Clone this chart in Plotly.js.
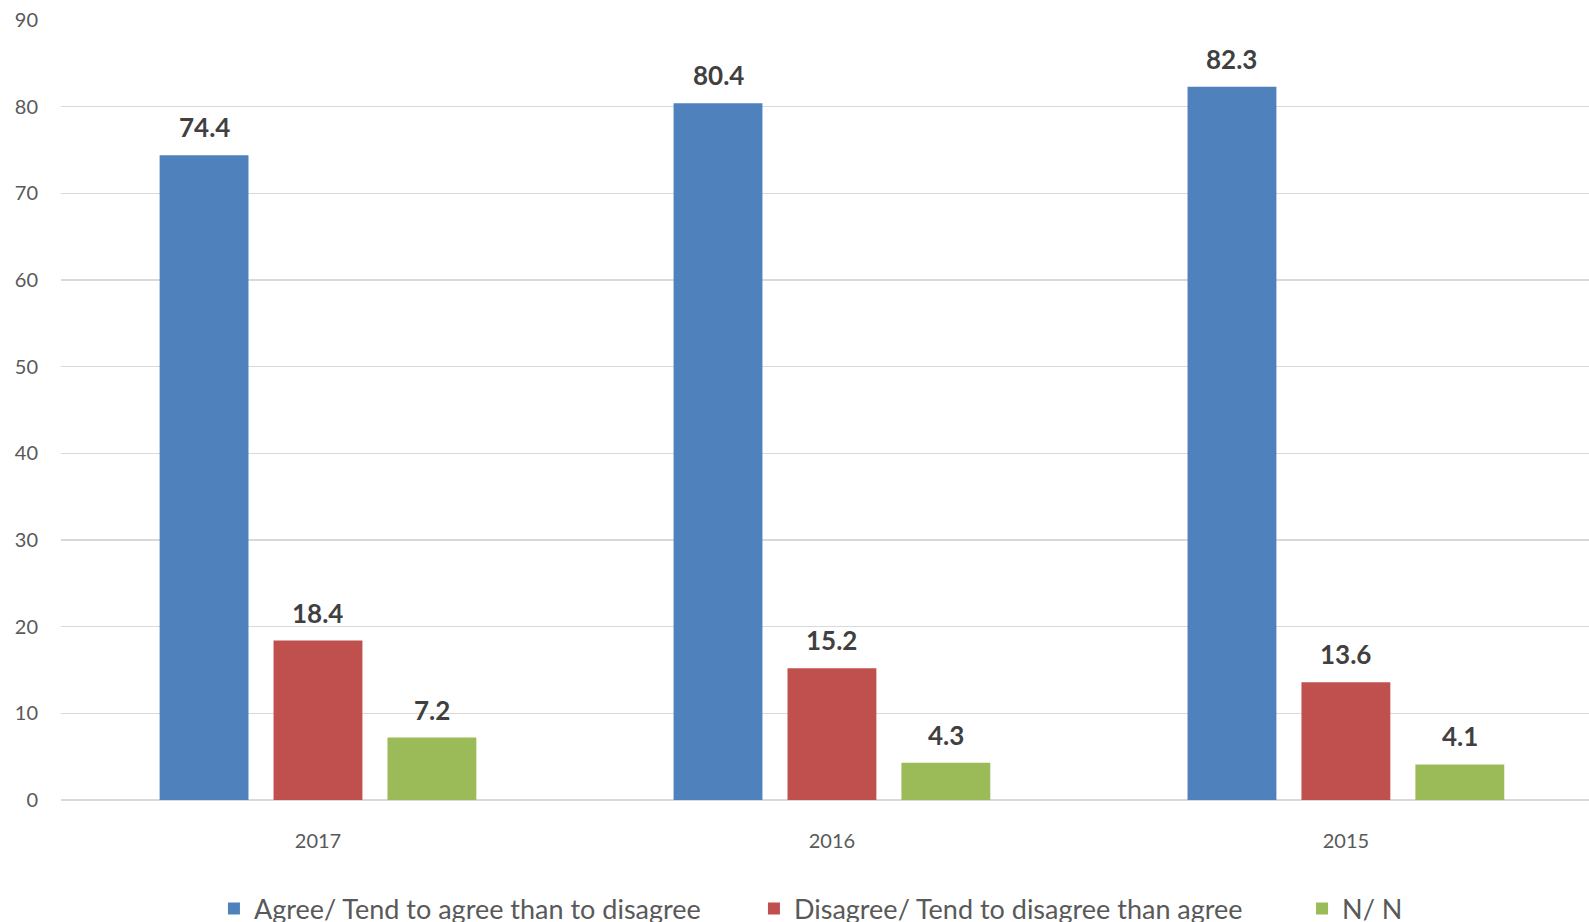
<!DOCTYPE html>
<html>
<head>
<meta charset="utf-8">
<script src="https://cdn.plot.ly/plotly-3.0.1.min.js"></script>
<style>
html,body{margin:0;padding:0;background:#fff;overflow:hidden;width:1589px;height:922px;}
#chart{width:1589px;height:940px;}
</style>
</head>
<body>
<div id="chart"></div>
<script>
const years = ["2017", "2016", "2015"];
const agree = [74.4, 80.4, 82.3];
const disagree = [18.4, 15.2, 13.6];
const nn = [7.2, 4.3, 4.1];
const seriesNames = ["Agree/ Tend to agree than to disagree", "Disagree/ Tend to disagree than agree", "N/ N"];
const seriesColors = ["#4f81bd", "#c0504d", "#9bbb59"];
const yTicks = [0, 10, 20, 30, 40, 50, 60, 70, 80, 90];

const allSeries = [agree, disagree, nn];
const BARGAP = 0.335;
const BARGROUPGAP = 0.22;
const FONT = "Lato, 'Open Sans', sans-serif";
const legendIds = ["legend", "legend2", "legend3"];
const legendX = [0.1001, 0.4535, 0.8122];

const traces = allSeries.map((vals, i) => ({
  type: "bar",
  name: seriesNames[i],
  x: years,
  y: vals,
  legend: legendIds[i],
  marker: {color: seriesColors[i]},
  hoverinfo: "skip"
}));

const annotations = [];
allSeries.forEach((vals, i) => {
  vals.forEach((v, j) => {
    annotations.push({
      xref: "x", yref: "y",
      x: j + (i - 1) * (1 - BARGAP) / 3,
      y: v,
      text: v.toFixed(1),
      showarrow: false,
      yanchor: "bottom",
      yshift: 10,
      font: {family: FONT, size: 26, color: "#404040", weight: "bold"}
    });
  });
});

const layout = {
  width: 1589,
  height: 940,
  margin: {l: 61, r: 0, t: 20, b: 140},
  paper_bgcolor: "#ffffff",
  plot_bgcolor: "#ffffff",
  barmode: "group",
  bargap: BARGAP,
  bargroupgap: BARGROUPGAP,
  showlegend: true,
  xaxis: {
    type: "category",
    range: [-0.5, 2.473],
    showgrid: false,
    showline: false,
    zeroline: false,
    ticks: "",
    ticklabelstandoff: 27,
    tickfont: {family: FONT, size: 20, color: "#595959"},
    fixedrange: true
  },
  yaxis: {
    range: [0, 90],
    tickvals: yTicks,
    ticktext: yTicks.map(String),
    showgrid: true,
    gridcolor: "#d9d9d9",
    gridwidth: 1.5,
    zeroline: true,
    zerolinecolor: "#d9d9d9",
    zerolinewidth: 2,
    showline: false,
    ticks: "",
    ticklabelstandoff: 22,
    tickfont: {family: FONT, size: 20, color: "#595959"},
    fixedrange: true
  },
  annotations: annotations
};

legendIds.forEach((id, i) => {
  layout[id] = {
    orientation: "h",
    x: legendX[i], xanchor: "left",
    y: -0.1397, yanchor: "middle",
    font: {family: FONT, size: 27, color: "#595959"},
    bgcolor: "rgba(0,0,0,0)",
    itemclick: false
  };
});

Plotly.newPlot("chart", traces, layout, {displayModeBar: false, staticPlot: true});
</script>
</body>
</html>
